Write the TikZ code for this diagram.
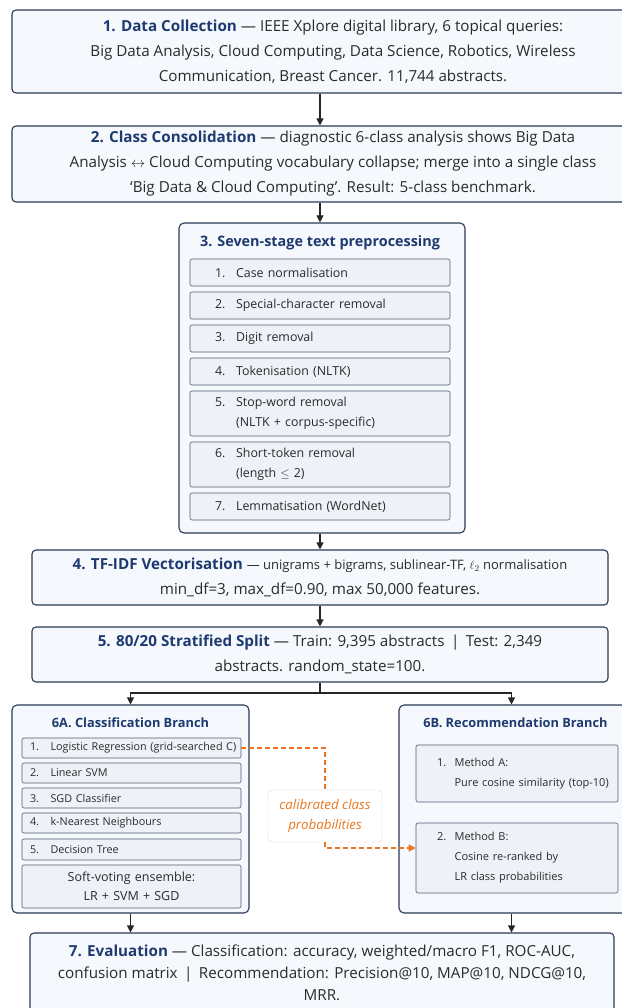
\documentclass[tikz,border=0pt]{standalone}
\usepackage{fontspec}
\setmainfont{Open Sans}
\usetikzlibrary{arrows.meta,calc}
\definecolor{navy}{HTML}{2B3A55}
\definecolor{boxfill}{HTML}{F5F8FC}
\definecolor{itemfill}{HTML}{EEF2F8}
\definecolor{itemline}{HTML}{505C70}
\definecolor{headblue}{HTML}{1F3A70}
\definecolor{bodytext}{HTML}{2A2A2A}
\definecolor{calib}{HTML}{E8761E}
\begin{document}
\begin{tikzpicture}[x=1pt, y=-1pt,
    >={Triangle[length=7pt,width=7pt]},
    stage/.style={draw=navy, line width=1.1pt, rounded corners=4pt, fill=boxfill, align=center, text=bodytext, font=\fontsize{15.2}{25}\selectfont},
    group/.style={draw=navy, line width=1.1pt, rounded corners=5pt, fill=boxfill},
    item/.style={draw=itemline, line width=0.6pt, rounded corners=2pt, fill=itemfill, align=left, text=bodytext},
    head/.style={text=headblue, font=\bfseries\fontsize{12.8}{15}\selectfont},
    flow/.style={line width=1.1pt, draw=black!85},
    calibline/.style={draw=calib, line width=1.2pt, dash pattern=on 5pt off 3pt}
  ]
    \fill[white] (0,0) rectangle (621,1008);
    \useasboundingbox (0,0) rectangle (621,1008);

    \coordinate (spine) at (320,0);

    \node[stage, minimum width=642pt, minimum height=83pt] (collect) at (333,51.5) {\textbf{\color{headblue}1. Data Collection} --- IEEE Xplore digital library, 6 topical queries:\\Big Data Analysis, Cloud Computing, Data Science, Robotics, Wireless\\Communication, Breast Cancer. 11,744 abstracts.};
    \node[stage, minimum width=642pt, minimum height=76pt] (consol) at (333,164) {\textbf{\color{headblue}2. Class Consolidation} --- diagnostic 6-class analysis shows Big Data\\Analysis $\leftrightarrow$ Cloud Computing vocabulary collapse; merge into a single class\\`Big Data \& Cloud Computing'. Result: 5-class benchmark.};

    \node[group, minimum width=286pt, minimum height=310pt] (prep) at (322,378) {};
    \node[head, font=\bfseries\fontsize{14.4}{16}\selectfont] (preptitle) at (320,243) {3. Seven-stage text preprocessing};
    \begin{scope}[every node/.style={item, text width=210pt, inner xsep=25pt, font=\fontsize{12.4}{20}\selectfont}]
    \node[minimum height=27pt] (case) at (320,272.5) {\makebox[1.7em][l]{1.}Case normalisation};
    \node[minimum height=27pt] (special) at (320,305.5) {\makebox[1.7em][l]{2.}Special-character removal};
    \node[minimum height=27pt] (digit) at (320,338.5) {\makebox[1.7em][l]{3.}Digit removal};
    \node[minimum height=27pt] (token) at (320,371.5) {\makebox[1.7em][l]{4.}Tokenisation (NLTK)};
    \node[minimum height=45pt] (stop) at (320,413.5) {\makebox[1.7em][l]{5.}Stop-word removal\\\hspace*{1.7em}(NLTK + corpus-specific)};
    \node[minimum height=45pt] (short) at (320,464.5) {\makebox[1.7em][l]{6.}Short-token removal\\\hspace*{1.7em}(length $\leq$ 2)};
    \node[minimum height=27pt] (lemma) at (320,506.5) {\makebox[1.7em][l]{7.}Lemmatisation (WordNet)};
    \end{scope}

    \node[stage, minimum width=576pt, minimum height=55pt] (tfidf) at (320,577.5) {\textbf{\color{headblue}4. TF-IDF Vectorisation} {\fontsize{13}{25}\selectfont --- unigrams + bigrams, sublinear-TF, $\ell_2$ normalisation}\\min\_df=3, max\_df=0.90, max 50,000 features.};
    \node[stage, minimum width=576pt, minimum height=55pt] (split) at (320,654.5) {\textbf{\color{headblue}5. 80/20 Stratified Split} --- Train: 9,395 abstracts \,|\, Test: 2,349\\abstracts. random\_state=100.};

    \node[group, minimum width=237pt, minimum height=208pt] (clsbranch) at (130.5,809) {};
    \node[head] (clstitle) at (130.5,723) {6A. Classification Branch};
    \begin{scope}[every node/.style={item, text width=215pt, inner xsep=2pt, font=\fontsize{10.8}{18}\selectfont}]
    \node[minimum height=20pt] (lr) at (131.5,748) {\hspace*{6pt}\makebox[1.9em][l]{1.}Logistic Regression (grid-searched C)};
    \node[minimum height=20pt] (svm) at (131.5,773) {\hspace*{6pt}\makebox[1.9em][l]{2.}Linear SVM};
    \node[minimum height=20pt] (sgd) at (131.5,798) {\hspace*{6pt}\makebox[1.9em][l]{3.}SGD Classifier};
    \node[minimum height=20pt] (knn) at (131.5,823) {\hspace*{6pt}\makebox[1.9em][l]{4.}k-Nearest Neighbours};
    \node[minimum height=21pt] (tree) at (131.5,849.5) {\hspace*{6pt}\makebox[1.9em][l]{5.}Decision Tree};
    \node[minimum height=43pt, align=center, font=\fontsize{12.5}{19}\selectfont] (ensemble) at (131.5,886.5) {Soft-voting ensemble:\\LR + SVM + SGD};
    \end{scope}

    \node[group, minimum width=233pt, minimum height=208pt] (recbranch) at (515.5,809) {};
    \node[head] (rectitle) at (515.5,723) {6B. Recommendation Branch};
    \begin{scope}[every node/.style={item, text width=196pt, inner xsep=3pt, font=\fontsize{11}{20}\selectfont}]
    \node[minimum height=57pt] (methoda) at (517,773.5) {\hspace*{18pt}\makebox[1.6em][l]{1.}Method A:\\\hspace*{18pt}\hspace*{1.6em}\mbox{Pure cosine similarity (top-10)}};
    \node[minimum height=70pt] (methodb) at (517,858) {\hspace*{18pt}\makebox[1.6em][l]{2.}Method B:\\\hspace*{18pt}\hspace*{1.6em}Cosine re-ranked by\\\hspace*{18pt}\hspace*{1.6em}LR class probabilities};
    \end{scope}

    \node[draw=black!15, fill=white, rounded corners=4pt, minimum width=114pt, minimum height=52pt, align=center, text=calib, font=\itshape\fontsize{13.3}{20}\selectfont] (calib) at (325,816) {calibrated class\\probabilities};

    \node[stage, minimum width=584pt, minimum height=80pt, font=\fontsize{15.2}{22}\selectfont] (eval) at (322,973) {\textbf{\color{headblue}7. Evaluation} --- Classification: accuracy, weighted/macro F1, ROC-AUC,\\confusion matrix \,|\, Recommendation: Precision@10, MAP@10, NDCG@10,\\MRR.};

    \draw[flow, ->] (collect.south -| spine) -- (consol.north -| spine);
    \draw[flow, ->] (consol.south -| spine) -- (prep.north -| spine);
    \draw[flow, ->] (prep.south -| spine) -- (tfidf.north -| spine);
    \draw[flow, ->] (tfidf.south -| spine) -- (split.north -| spine);
    \coordinate (fork) at (320,693);
    \draw[flow] (split.south -| spine) -- (fork);
    \draw[flow, ->] (fork) -| (clsbranch.north);
    \draw[flow, ->] (fork) -| ([xshift=-4pt]recbranch.north);
    \draw[flow, ->] (clsbranch.south) -- (clsbranch.south |- eval.north);
    \draw[flow, ->] ([xshift=-4pt]recbranch.south) -- ([xshift=-4pt]recbranch.south |- eval.north);

    \draw[calibline] (lr.east) -| (calib.north);
    \draw[calibline, ->] (calib.south) |- ([yshift=10pt]methodb.west);
\end{tikzpicture}
\end{document}
